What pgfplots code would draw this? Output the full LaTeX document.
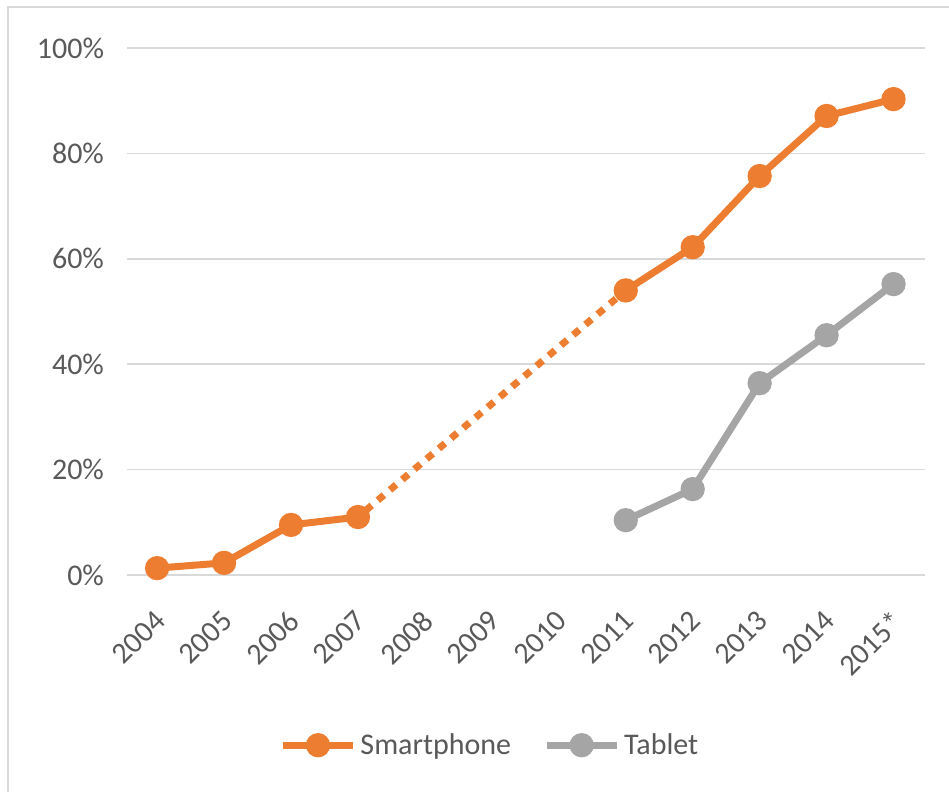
\documentclass[border=0pt]{standalone}
\usepackage{pgfplots}
\pgfplotsset{compat=1.18}
\usepackage{fontspec}
\setmainfont{Carlito}
\definecolor{orng}{HTML}{ED7D31}
\definecolor{gry}{HTML}{A5A5A5}
\definecolor{gridc}{HTML}{D9D9D9}
\definecolor{txt}{HTML}{595959}
\begin{document}
\begin{tikzpicture}[x=1pt,y=1pt]
\path[use as bounding box] (0,0) rectangle (474.5,396);
\draw[gridc, line width=1pt] (4,0) -- (4,392.5) -- (474.5,392.5);
\begin{axis}[
  at={(63.5pt,108.5pt)}, anchor=south west,
  scale only axis, width=399pt, height=263.5pt,
  xmin=-0.45, xmax=11.47, ymin=0, ymax=100,
  axis line style={draw=none},
  ymajorgrids, grid style={gridc, line width=0.8pt},
  xtick={0,...,11},
  xticklabels={2004,2005,2006,2007,2008,2009,2010,2011,2012,2013,2014,2015*},
  ytick={0,20,40,60,80,100},
  yticklabels={0\%,20\%,40\%,60\%,80\%,100\%},
  major tick length=0pt,
  tick label style={font=\fontsize{15}{17}\selectfont, text=txt},
  yticklabel style={xshift=-8pt},
  xticklabel style={xshift=-2pt, yshift=-12pt, rotate=45, anchor=north east},
  unbounded coords=jump,
  legend style={draw=none, at={(0.456,-0.323)}, anchor=center,
    font=\fontsize{15}{17}\selectfont, text=txt,
    nodes={inner xsep=2pt},
    /tikz/every even column/.append style={column sep=14pt}},
  legend columns=2,
  legend image code/.code={\draw[mark repeat=2,mark phase=2,#1] plot coordinates {(0pt,0pt) (17.5pt,0pt) (35pt,0pt)};},
  clip=false,
]
\addplot[orng, line width=3.5pt, mark=*, mark size=4.3pt, mark options={solid}] coordinates {
 (0,1.3) (1,2.3) (2,9.5) (3,11.0) (4,nan) (5,nan) (6,nan) (7,54.0) (8,62.2) (9,75.7) (10,87.1) (11,90.3)};
\addlegendentry{Smartphone}
\addplot[gry, line width=3.5pt, mark=*, mark size=4.3pt] coordinates {
 (7,10.4) (8,16.3) (9,36.4) (10,45.5) (11,55.2)};
\addlegendentry{Tablet}
\addplot[orng, line width=3.5pt, dash pattern=on 4pt off 4pt, forget plot, shorten <=5pt] coordinates {(3,11.0) (7,54.0)};
\end{axis}
\end{tikzpicture}
\end{document}
